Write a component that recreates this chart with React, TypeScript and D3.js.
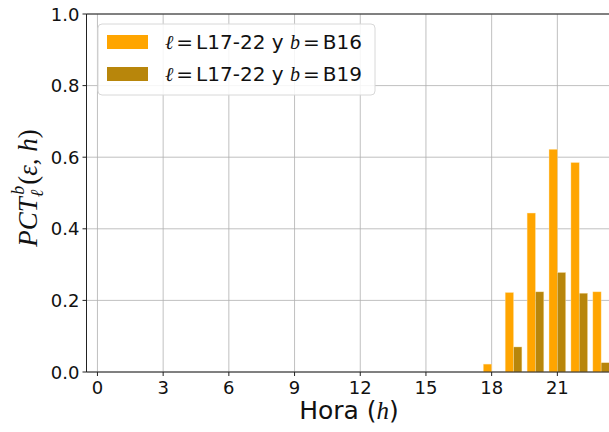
import * as d3 from 'd3';

const HOURS = [18, 19, 20, 21, 22, 23];
const B16 = [0.022, 0.222, 0.444, 0.622, 0.585, 0.224];
const B19 = [0.0, 0.07, 0.224, 0.278, 0.22, 0.026];
const X_TICKS = [0, 3, 6, 9, 12, 15, 18, 21];
const Y_TICKS = [0, 0.2, 0.4, 0.6, 0.8, 1.0];
const SERIES = [
  { name: 'B16', color: '#FFA500', values: B16, offset: -1 },
  { name: 'B19', color: '#B8860B', values: B19, offset: 0 },
];

const W = 609, H = 432;
const left = 86.5, top = 14, bottom = 372;
const hourPx = 21.9;

export default function App() {
  const x = d3.scaleLinear().domain([-0.5, 23.5]).range([left, left + 24 * hourPx]);
  const y = d3.scaleLinear().domain([0, 1]).range([bottom, top]);
  const bw = 0.38;
  const font = '"DejaVu Sans", sans-serif';
  const math = '"Liberation Serif", "DejaVu Serif", serif';

  return (
    <div style={{ position: 'absolute', left: 0, top: 0 }}>
      <svg width={W} height={H} style={{ display: 'block', background: '#fff' }}>
        {/* grid */}
        {X_TICKS.map(t => (
          <line key={'gx' + t} x1={x(t)} x2={x(t)} y1={top} y2={bottom} stroke="#b0b0b0" strokeWidth={0.8} />
        ))}
        {Y_TICKS.map(t => (
          <line key={'gy' + t} x1={left} x2={W} y1={y(t)} y2={y(t)} stroke="#b0b0b0" strokeWidth={0.8} />
        ))}

        {/* bars */}
        {SERIES.map(s =>
          HOURS.map((h, i) => {
            const x0 = x(h + s.offset * bw);
            const x1 = x(h + (s.offset + 1) * bw);
            return (
              <rect key={s.name + h} x={x0} y={y(s.values[i])} width={x1 - x0}
                height={y(0) - y(s.values[i])} fill={s.color}
                stroke="#ffe7b0" strokeOpacity={0.6} strokeWidth={0.6} />
            );
          })
        )}

        {/* spines */}
        <line x1={left} x2={left} y1={top} y2={bottom} stroke="#222" strokeWidth={1} />
        <line x1={left} x2={W} y1={top} y2={top} stroke="#222" strokeWidth={1} />
        <line x1={left} x2={W} y1={bottom} y2={bottom} stroke="#222" strokeWidth={1} />

        {/* x ticks */}
        {X_TICKS.map(t => (
          <g key={'xt' + t}>
            <line x1={x(t)} x2={x(t)} y1={bottom} y2={bottom + 4} stroke="#222" />
            <text x={x(t)} y={bottom + 22} textAnchor="middle" fontFamily={font} fontSize={18} fill="#111">{t}</text>
          </g>
        ))}
        {/* y ticks */}
        {Y_TICKS.map(t => (
          <g key={'yt' + t}>
            <line x1={left - 4} x2={left} y1={y(t)} y2={y(t)} stroke="#222" />
            <text x={left - 7} y={y(t) + 6.5} textAnchor="end" fontFamily={font} fontSize={18} fill="#111">{d3.format('.1f')(t)}</text>
          </g>
        ))}

        {/* axis labels */}
        <text x={349} y={419} textAnchor="middle" fontFamily={font} fontSize={25} fill="#111">
          Hora (<tspan fontFamily={math} fontStyle="italic">h</tspan>)
        </text>
        <text transform="translate(37,188) rotate(-90)" textAnchor="middle" fontFamily={math} fontStyle="italic" fontSize={27} fill="#111">
          PCT<tspan fontSize={18} dx={0} dy={6}>ℓ</tspan><tspan fontSize={18} dx={-5} dy={-19}>b</tspan><tspan dx={1} dy={13} fontStyle="normal">(</tspan>ε, h<tspan fontStyle="normal">)</tspan>
        </text>

        {/* legend */}
        <rect x={98} y={24} width={277} height={71} rx={4} fill="#fff" fillOpacity={0.85} stroke="#d8d8d8" />
        {SERIES.map((s, i) => (
          <g key={'lg' + s.name} transform={`translate(0,${i * 32})`}>
            <rect x={107} y={35} width={41} height={14} fill={s.color} />
            <text x={165} y={49} fontFamily={font} fontSize={20} fill="#111">
              <tspan fontFamily={math} fontStyle="italic">ℓ</tspan>
              <tspan dx={3}>=</tspan>
              <tspan dx={3}>L17-22 y </tspan>
              <tspan fontFamily={math} fontStyle="italic">b</tspan>
              <tspan dx={3}>=</tspan>
              <tspan dx={3}>{s.name}</tspan>
            </text>
          </g>
        ))}
      </svg>
    </div>
  );
}
